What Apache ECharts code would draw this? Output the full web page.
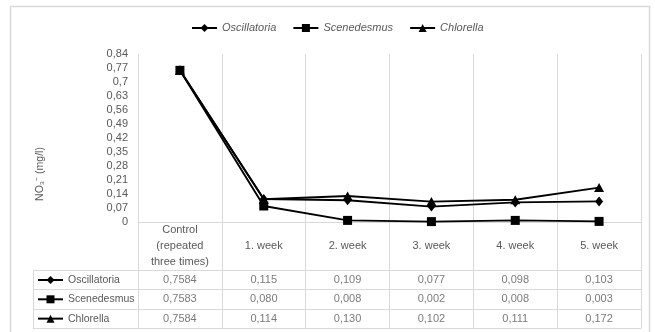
<!DOCTYPE html>
<html>
<head>
<meta charset="utf-8">
<script src="https://cdn.jsdelivr.net/npm/echarts@6/dist/echarts.min.js"></script>
<style>
html,body{margin:0;padding:0;background:#fff;}
#chart{width:655px;height:332px;}
</style>
</head>
<body>
<div id="chart"></div>
<script>
// ---- data ----
var categories = ['Control\n(repeated\nthree times)', '1. week', '2. week', '3. week', '4. week', '5. week'];
var seriesNames = ['Oscillatoria', 'Scenedesmus', 'Chlorella'];
var oscillatoria = [0.7584, 0.115, 0.109, 0.077, 0.098, 0.103];
var scenedesmus = [0.7583, 0.080, 0.008, 0.002, 0.008, 0.003];
var chlorella = [0.7584, 0.114, 0.130, 0.102, 0.111, 0.172];
var yMin = 0, yMax = 0.84, yStep = 0.07;
var yAxisTitle = 'NO\u2083\u207B (mg/l)';

// ---- layout ----
var W = 655, H = 332;
var plotLeft = 138, plotRight = 14, plotTop = 54, plotBottomY = 222;
var tableLeft = 33, tableBottomY = 328.3;
var bandW = (W - plotRight - plotLeft) / categories.length;
var leftColUnits = (plotLeft - tableLeft) / bandW;
var rowH = 19.33;
var headerUnits = (tableBottomY - plotBottomY) / rowH - 3;
var tableYMax = 3 + headerUnits;

var txt = '#595959', grid = '#d9d9d9';
var font = 'Liberation Sans';

var values = [oscillatoria, scenedesmus, chlorella];
var symbols = ['diamond', 'rect', 'triangle'];
var symbolSizes = [[8, 10], 9, [10, 9]];

function fmtTick(v) {
  return String(Number(v.toFixed(2))).replace('.', ',');
}
function fmtCell(v, i) {
  return v.toFixed(i === 0 ? 4 : 3).replace('.', ',');
}

var lineSeries = seriesNames.map(function (n, k) {
  return {
    name: n, type: 'line', xAxisIndex: 0, yAxisIndex: 0,
    data: values[k],
    symbol: symbols[k], symbolSize: symbolSizes[k],
    lineStyle: {color: '#000', width: 1.9},
    itemStyle: {color: '#000'},
    animation: false, z: 3 + k
  };
});

// table cells
var nCols = categories.length, nRows = seriesNames.length;
var cellData = [];
seriesNames.forEach(function (n, r) {
  var yc = nRows - r - 0.5;
  values[r].forEach(function (v, i) {
    cellData.push({value: [i + 0.5, yc], label: {formatter: fmtCell(v, i)}});
  });
});

// table lines
var ml = [];
for (var r = 0; r <= nRows; r++) {
  ml.push([{coord: [-leftColUnits, r]}, {coord: [nCols, r]}]);
}
for (var c = 0; c <= nCols; c++) {
  ml.push([{coord: [c, 0]}, {coord: [c, tableYMax]}]);
}
ml.push([{coord: [-leftColUnits, 0]}, {coord: [-leftColUnits, nRows]}]);

// legends: top one + one per table row
var legends = [{
  data: seriesNames, left: 191, top: 22.5, padding: 0, itemWidth: 25, itemHeight: 10, itemGap: 16,
  textStyle: {color: txt, fontStyle: 'italic', fontSize: 11, fontFamily: font},
  selectedMode: false
}];
seriesNames.forEach(function (n, r) {
  var cy = tableBottomY - (nRows - r - 0.5) * rowH;
  legends.push({
    data: [n], left: 37, top: cy - 6.5, padding: 0, itemWidth: 25, itemHeight: 10,
    textStyle: {color: txt, fontSize: 10.5, fontFamily: font, lineHeight: 13},
    selectedMode: false
  });
});

var option = {
  backgroundColor: '#fff',
  animation: false,
  textStyle: {fontFamily: font},
  graphic: [{
    type: 'rect', shape: {x: 10.5, y: 6.5, width: 639, height: 340},
    style: {fill: 'none', stroke: grid, lineWidth: 1.5}, silent: true, z: -1
  }],
  legend: legends,
  grid: [
    {left: plotLeft, right: plotRight, top: plotTop, bottom: H - plotBottomY},
    {left: tableLeft, right: plotRight, top: plotBottomY, bottom: H - tableBottomY}
  ],
  xAxis: [{
    type: 'category', gridIndex: 0, data: categories, boundaryGap: true,
    axisLine: {lineStyle: {color: grid, width: 1}},
    axisTick: {show: false},
    splitLine: {show: true, lineStyle: {color: grid, width: 1}},
    axisLabel: {color: txt, fontSize: 11, lineHeight: 16, margin: 24, verticalAlign: 'middle', align: 'center', interval: 0}
  }, {
    type: 'value', gridIndex: 1, min: -leftColUnits, max: nCols, show: false
  }],
  yAxis: [{
    type: 'value', gridIndex: 0, min: yMin, max: yMax, interval: yStep,
    axisLine: {show: false}, axisTick: {show: false}, splitLine: {show: false},
    axisLabel: {color: txt, fontSize: 11, margin: 10, formatter: fmtTick},
    name: yAxisTitle, nameLocation: 'middle', nameGap: 92, nameRotate: 90,
    nameTextStyle: {color: txt, fontSize: 10.5, padding: [0, 72, 0, 0]}
  }, {
    type: 'value', gridIndex: 1, min: 0, max: tableYMax, show: false
  }],
  series: lineSeries.concat([{
    name: 'table', type: 'scatter', xAxisIndex: 1, yAxisIndex: 1,
    data: cellData, symbolSize: 0, silent: true,
    label: {show: true, position: 'inside', color: txt, fontSize: 11, fontFamily: font},
    markLine: {
      silent: true, symbol: ['none', 'none'], animation: false,
      label: {show: false},
      lineStyle: {color: grid, width: 1, type: 'solid'},
      emphasis: {disabled: true},
      data: ml
    }
  }])
};

var chart = echarts.init(document.getElementById('chart'), null, {renderer: 'canvas'});
chart.setOption(option);
</script>
</body>
</html>
